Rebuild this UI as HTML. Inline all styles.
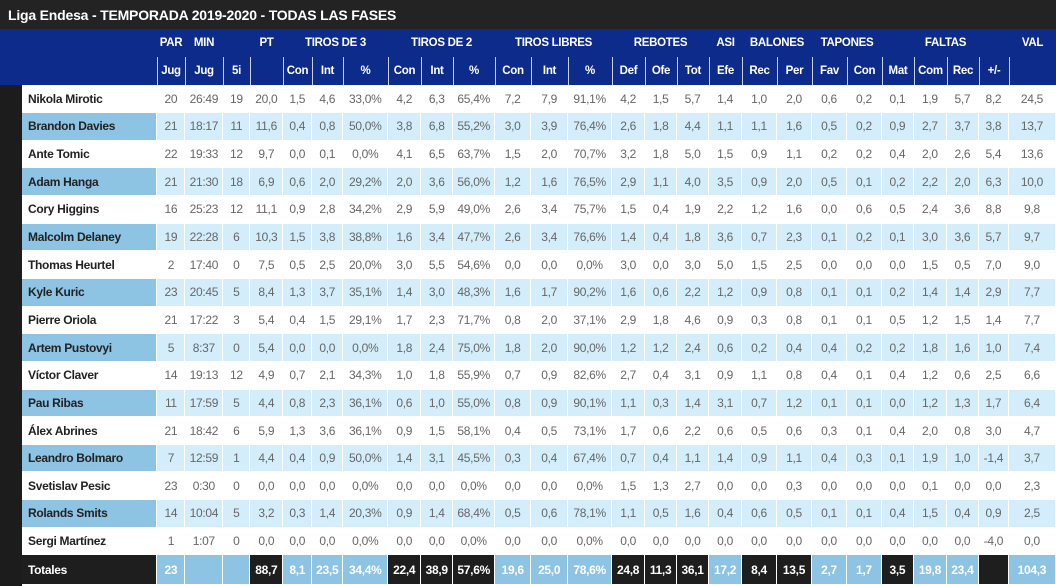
<!DOCTYPE html>
<html><head><meta charset="utf-8"><style>
*{margin:0;padding:0;box-sizing:border-box}
body{width:1056px;height:586px;overflow:hidden;background:#fff;font-family:"Liberation Sans",sans-serif;position:relative}
#title{position:absolute;left:0;top:0;width:1056px;height:29px;background:#232323;color:#fff;font-weight:bold;font-size:14px;line-height:30px;padding-left:8px;letter-spacing:-0.2px}
#hdr{position:absolute;left:0;top:29px;width:1056px;height:56px;background:#0c2b8b}
#strip{position:absolute;left:0;top:85px;width:22px;height:501px;background:#1c1c1c}
table{border-collapse:collapse;table-layout:fixed;position:absolute}
#ht{left:0;top:29px}
#ht td{color:#fff;font-weight:bold;font-size:11.5px;text-align:center;height:28px;letter-spacing:-0.3px}
#ht tr.r2 td.s{border-left:1px solid #c8cfe6}
#dt{left:22px;top:85px}
#dt td{height:27.65px;font-size:12px;color:#666;text-align:center;border:1px solid #fff;border-width:0 1px 1px 0;letter-spacing:-0.3px}
#dt td:first-child{text-align:left;padding-left:6px;color:#222;font-weight:bold;font-size:12px}
#dt tr.b td{background:#d3eefa}
#dt tr.b td:first-child{background:#8dc3e3}
#dt tr.t td{background:#8dc3e3;color:#fff;font-weight:bold;height:30px}
#dt tr.t td:first-child{background:#1e1e1e;color:#fff}
#dt tr.t td.k{background:#1e1e1e}
</style></head><body>
<div id="title">Liga Endesa - TEMPORADA 2019-2020 - TODAS LAS FASES</div>
<div id="hdr"></div>
<div id="strip"></div>
<table id="ht">
<colgroup><col style="width:157px"><col style="width:28px"><col style="width:38px"><col style="width:27px"><col style="width:33px"><col style="width:29px"><col style="width:31px"><col style="width:45px"><col style="width:33px"><col style="width:32px"><col style="width:42px"><col style="width:36px"><col style="width:37px"><col style="width:44px"><col style="width:33px"><col style="width:32px"><col style="width:32px"><col style="width:33px"><col style="width:35px"><col style="width:35px"><col style="width:35px"><col style="width:35px"><col style="width:32px"><col style="width:33px"><col style="width:32px"><col style="width:30px"><col style="width:47px"></colgroup>
<tr><td></td><td>PAR</td><td>MIN</td><td></td><td>PT</td><td colspan="3">TIROS DE 3</td><td colspan="3">TIROS DE 2</td><td colspan="3">TIROS LIBRES</td><td colspan="3">REBOTES</td><td>ASI</td><td colspan="2">BALONES</td><td colspan="2">TAPONES</td><td colspan="4">FALTAS</td><td>VAL</td></tr>
<tr class="r2"><td></td><td class="s">Jug</td><td class="s">Jug</td><td class="s">5i</td><td class="s"></td><td class="s">Con</td><td class="s">Int</td><td class="s">%</td><td class="s">Con</td><td class="s">Int</td><td class="s">%</td><td class="s">Con</td><td class="s">Int</td><td class="s">%</td><td class="s">Def</td><td class="s">Ofe</td><td class="s">Tot</td><td class="s">Efe</td><td class="s">Rec</td><td class="s">Per</td><td class="s">Fav</td><td class="s">Con</td><td class="s">Mat</td><td class="s">Com</td><td class="s">Rec</td><td class="s">+/-</td><td class="s"></td></tr>
</table>
<table id="dt">
<colgroup><col style="width:135px"><col style="width:28px"><col style="width:38px"><col style="width:27px"><col style="width:33px"><col style="width:29px"><col style="width:31px"><col style="width:45px"><col style="width:33px"><col style="width:32px"><col style="width:42px"><col style="width:36px"><col style="width:37px"><col style="width:44px"><col style="width:33px"><col style="width:32px"><col style="width:32px"><col style="width:33px"><col style="width:35px"><col style="width:35px"><col style="width:35px"><col style="width:35px"><col style="width:32px"><col style="width:33px"><col style="width:32px"><col style="width:30px"><col style="width:47px"></colgroup>
<tr><td>Nikola Mirotic</td><td>20</td><td>26:49</td><td>19</td><td>20,0</td><td>1,5</td><td>4,6</td><td>33,0%</td><td>4,2</td><td>6,3</td><td>65,4%</td><td>7,2</td><td>7,9</td><td>91,1%</td><td>4,2</td><td>1,5</td><td>5,7</td><td>1,4</td><td>1,0</td><td>2,0</td><td>0,6</td><td>0,2</td><td>0,1</td><td>1,9</td><td>5,7</td><td>8,2</td><td>24,5</td></tr>
<tr class="b"><td>Brandon Davies</td><td>21</td><td>18:17</td><td>11</td><td>11,6</td><td>0,4</td><td>0,8</td><td>50,0%</td><td>3,8</td><td>6,8</td><td>55,2%</td><td>3,0</td><td>3,9</td><td>76,4%</td><td>2,6</td><td>1,8</td><td>4,4</td><td>1,1</td><td>1,1</td><td>1,6</td><td>0,5</td><td>0,2</td><td>0,9</td><td>2,7</td><td>3,7</td><td>3,8</td><td>13,7</td></tr>
<tr><td>Ante Tomic</td><td>22</td><td>19:33</td><td>12</td><td>9,7</td><td>0,0</td><td>0,1</td><td>0,0%</td><td>4,1</td><td>6,5</td><td>63,7%</td><td>1,5</td><td>2,0</td><td>70,7%</td><td>3,2</td><td>1,8</td><td>5,0</td><td>1,5</td><td>0,9</td><td>1,1</td><td>0,2</td><td>0,2</td><td>0,4</td><td>2,0</td><td>2,6</td><td>5,4</td><td>13,6</td></tr>
<tr class="b"><td>Adam Hanga</td><td>21</td><td>21:30</td><td>18</td><td>6,9</td><td>0,6</td><td>2,0</td><td>29,2%</td><td>2,0</td><td>3,6</td><td>56,0%</td><td>1,2</td><td>1,6</td><td>76,5%</td><td>2,9</td><td>1,1</td><td>4,0</td><td>3,5</td><td>0,9</td><td>2,0</td><td>0,5</td><td>0,1</td><td>0,2</td><td>2,2</td><td>2,0</td><td>6,3</td><td>10,0</td></tr>
<tr><td>Cory Higgins</td><td>16</td><td>25:23</td><td>12</td><td>11,1</td><td>0,9</td><td>2,8</td><td>34,2%</td><td>2,9</td><td>5,9</td><td>49,0%</td><td>2,6</td><td>3,4</td><td>75,7%</td><td>1,5</td><td>0,4</td><td>1,9</td><td>2,2</td><td>1,2</td><td>1,6</td><td>0,0</td><td>0,6</td><td>0,5</td><td>2,4</td><td>3,6</td><td>8,8</td><td>9,8</td></tr>
<tr class="b"><td>Malcolm Delaney</td><td>19</td><td>22:28</td><td>6</td><td>10,3</td><td>1,5</td><td>3,8</td><td>38,8%</td><td>1,6</td><td>3,4</td><td>47,7%</td><td>2,6</td><td>3,4</td><td>76,6%</td><td>1,4</td><td>0,4</td><td>1,8</td><td>3,6</td><td>0,7</td><td>2,3</td><td>0,1</td><td>0,2</td><td>0,1</td><td>3,0</td><td>3,6</td><td>5,7</td><td>9,7</td></tr>
<tr><td>Thomas Heurtel</td><td>2</td><td>17:40</td><td>0</td><td>7,5</td><td>0,5</td><td>2,5</td><td>20,0%</td><td>3,0</td><td>5,5</td><td>54,6%</td><td>0,0</td><td>0,0</td><td>0,0%</td><td>3,0</td><td>0,0</td><td>3,0</td><td>5,0</td><td>1,5</td><td>2,5</td><td>0,0</td><td>0,0</td><td>0,0</td><td>1,5</td><td>0,5</td><td>7,0</td><td>9,0</td></tr>
<tr class="b"><td>Kyle Kuric</td><td>23</td><td>20:45</td><td>5</td><td>8,4</td><td>1,3</td><td>3,7</td><td>35,1%</td><td>1,4</td><td>3,0</td><td>48,3%</td><td>1,6</td><td>1,7</td><td>90,2%</td><td>1,6</td><td>0,6</td><td>2,2</td><td>1,2</td><td>0,9</td><td>0,8</td><td>0,1</td><td>0,1</td><td>0,2</td><td>1,4</td><td>1,4</td><td>2,9</td><td>7,7</td></tr>
<tr><td>Pierre Oriola</td><td>21</td><td>17:22</td><td>3</td><td>5,4</td><td>0,4</td><td>1,5</td><td>29,1%</td><td>1,7</td><td>2,3</td><td>71,7%</td><td>0,8</td><td>2,0</td><td>37,1%</td><td>2,9</td><td>1,8</td><td>4,6</td><td>0,9</td><td>0,3</td><td>0,8</td><td>0,1</td><td>0,1</td><td>0,5</td><td>1,2</td><td>1,5</td><td>1,4</td><td>7,7</td></tr>
<tr class="b"><td>Artem Pustovyi</td><td>5</td><td>8:37</td><td>0</td><td>5,4</td><td>0,0</td><td>0,0</td><td>0,0%</td><td>1,8</td><td>2,4</td><td>75,0%</td><td>1,8</td><td>2,0</td><td>90,0%</td><td>1,2</td><td>1,2</td><td>2,4</td><td>0,6</td><td>0,2</td><td>0,4</td><td>0,4</td><td>0,2</td><td>0,2</td><td>1,8</td><td>1,6</td><td>1,0</td><td>7,4</td></tr>
<tr><td>Víctor Claver</td><td>14</td><td>19:13</td><td>12</td><td>4,9</td><td>0,7</td><td>2,1</td><td>34,3%</td><td>1,0</td><td>1,8</td><td>55,9%</td><td>0,7</td><td>0,9</td><td>82,6%</td><td>2,7</td><td>0,4</td><td>3,1</td><td>0,9</td><td>1,1</td><td>0,8</td><td>0,4</td><td>0,1</td><td>0,4</td><td>1,2</td><td>0,6</td><td>2,5</td><td>6,6</td></tr>
<tr class="b"><td>Pau Ribas</td><td>11</td><td>17:59</td><td>5</td><td>4,4</td><td>0,8</td><td>2,3</td><td>36,1%</td><td>0,6</td><td>1,0</td><td>55,0%</td><td>0,8</td><td>0,9</td><td>90,1%</td><td>1,1</td><td>0,3</td><td>1,4</td><td>3,1</td><td>0,7</td><td>1,2</td><td>0,1</td><td>0,1</td><td>0,0</td><td>1,2</td><td>1,3</td><td>1,7</td><td>6,4</td></tr>
<tr><td>Álex Abrines</td><td>21</td><td>18:42</td><td>6</td><td>5,9</td><td>1,3</td><td>3,6</td><td>36,1%</td><td>0,9</td><td>1,5</td><td>58,1%</td><td>0,4</td><td>0,5</td><td>73,1%</td><td>1,7</td><td>0,6</td><td>2,2</td><td>0,6</td><td>0,5</td><td>0,6</td><td>0,3</td><td>0,1</td><td>0,4</td><td>2,0</td><td>0,8</td><td>3,0</td><td>4,7</td></tr>
<tr class="b"><td>Leandro Bolmaro</td><td>7</td><td>12:59</td><td>1</td><td>4,4</td><td>0,4</td><td>0,9</td><td>50,0%</td><td>1,4</td><td>3,1</td><td>45,5%</td><td>0,3</td><td>0,4</td><td>67,4%</td><td>0,7</td><td>0,4</td><td>1,1</td><td>1,4</td><td>0,9</td><td>1,1</td><td>0,4</td><td>0,3</td><td>0,1</td><td>1,9</td><td>1,0</td><td>-1,4</td><td>3,7</td></tr>
<tr><td>Svetislav Pesic</td><td>23</td><td>0:30</td><td>0</td><td>0,0</td><td>0,0</td><td>0,0</td><td>0,0%</td><td>0,0</td><td>0,0</td><td>0,0%</td><td>0,0</td><td>0,0</td><td>0,0%</td><td>1,5</td><td>1,3</td><td>2,7</td><td>0,0</td><td>0,0</td><td>0,3</td><td>0,0</td><td>0,0</td><td>0,0</td><td>0,1</td><td>0,0</td><td>0,0</td><td>2,3</td></tr>
<tr class="b"><td>Rolands Smits</td><td>14</td><td>10:04</td><td>5</td><td>3,2</td><td>0,3</td><td>1,4</td><td>20,3%</td><td>0,9</td><td>1,4</td><td>68,4%</td><td>0,5</td><td>0,6</td><td>78,1%</td><td>1,1</td><td>0,5</td><td>1,6</td><td>0,4</td><td>0,6</td><td>0,5</td><td>0,1</td><td>0,1</td><td>0,4</td><td>1,5</td><td>0,4</td><td>0,9</td><td>2,5</td></tr>
<tr><td>Sergi Martínez</td><td>1</td><td>1:07</td><td>0</td><td>0,0</td><td>0,0</td><td>0,0</td><td>0,0%</td><td>0,0</td><td>0,0</td><td>0,0%</td><td>0,0</td><td>0,0</td><td>0,0%</td><td>0,0</td><td>0,0</td><td>0,0</td><td>0,0</td><td>0,0</td><td>0,0</td><td>0,0</td><td>0,0</td><td>0,0</td><td>0,0</td><td>0,0</td><td>-4,0</td><td>0,0</td></tr>
<tr class="t"><td>Totales</td><td>23</td><td></td><td></td><td class="k">88,7</td><td>8,1</td><td>23,5</td><td>34,4%</td><td class="k">22,4</td><td class="k">38,9</td><td class="k">57,6%</td><td>19,6</td><td>25,0</td><td>78,6%</td><td class="k">24,8</td><td class="k">11,3</td><td class="k">36,1</td><td>17,2</td><td class="k">8,4</td><td class="k">13,5</td><td>2,7</td><td>1,7</td><td class="k">3,5</td><td>19,8</td><td>23,4</td><td class="k"></td><td>104,3</td></tr>
</table>
</body></html>
